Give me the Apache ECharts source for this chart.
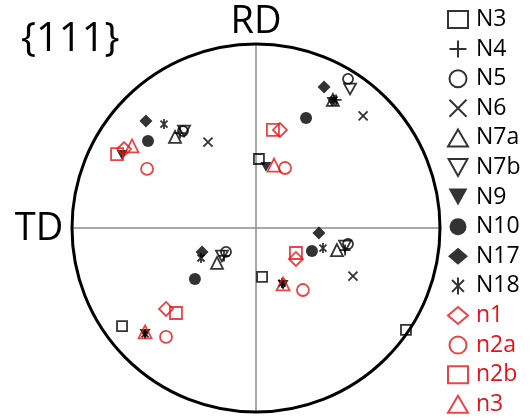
<!DOCTYPE html>
<html>
<head>
<meta charset="utf-8">
<script src="https://cdn.jsdelivr.net/npm/echarts@6/dist/echarts.min.js"></script>
<style>
  html, body { margin: 0; padding: 0; background: #fff; }
  #chart { width: 532px; height: 417px; }
</style>
</head>
<body>
<div id="chart"></div>
<script>
// pole figure coordinates, unit circle = outer rim
const N3 = [[0.016, 0.375], [0.033, -0.266], [-0.728, -0.533], [0.815, -0.554]]
const N4 = [[0.435, 0.696], [-0.413, 0.516], [-0.174, -0.152], [0.484, -0.12]]
const N5 = [[0.5, 0.81], [-0.397, 0.527], [-0.163, -0.13], [0.5, -0.087]]
const N6 = [[-0.261, 0.467], [0.582, 0.609], [0.527, -0.261]]
const N7a = [[-0.44, 0.495], [0.418, 0.696], [-0.212, -0.19], [0.44, -0.12]]
const N7b = [[-0.391, 0.527], [0.511, 0.755], [-0.185, -0.152], [0.484, -0.098]]
const N9 = [[-0.728, 0.397], [0.413, 0.685], [0.054, 0.332], [-0.603, -0.576], [0.147, -0.31]]
const N10 = [[-0.587, 0.473], [0.272, 0.598], [-0.332, -0.277], [0.304, -0.125]]
const N17 = [[-0.598, 0.582], [0.37, 0.766], [-0.293, -0.13], [0.342, -0.027]]
const N18 = [[-0.5, 0.565], [0.424, 0.696], [-0.299, -0.163], [0.364, -0.109], [-0.603, -0.576], [0.141, -0.299]]
const n1 = [[-0.717, 0.429], [0.13, 0.533], [-0.489, -0.44], [0.217, -0.168]]
const n2a = [[-0.592, 0.321], [0.158, 0.326], [-0.489, -0.592], [0.255, -0.337]]
const n2b = [[-0.755, 0.402], [0.092, 0.533], [-0.435, -0.462], [0.217, -0.136]]
const n3 = [[-0.674, 0.446], [0.098, 0.342], [-0.603, -0.565], [0.147, -0.304]]

const BLACK = '#000'
const RED = '#e81414'
const FONT = '"Open Sans"'

const PLUS = 'path://M5,0L5,10M0,5L10,5'
const CROSS = 'path://M0,0L10,10M10,0L0,10'
const STAR = 'path://M5,0L5,10M1.5,1.5L8.5,8.5M8.5,1.5L1.5,8.5'
const DOWN = 'path://M0,0L10,0L5,9Z'

function makeSeries (name, data, symbol, size, color, filled) {
  return {
    name: name,
    type: 'scatter',
    data: data,
    symbol: symbol,
    symbolSize: size,
    symbolKeepAspect: true,
    itemStyle: filled
      ? { color: color, borderWidth: 0 }
      : { color: 'rgba(0,0,0,0)', borderColor: color, borderWidth: 1.8 },
    emphasis: { disabled: true },
    z: 3
  }
}

const series = [
  makeSeries('N3', N3, 'rect', 10, BLACK, false),
  makeSeries('N4', N4, PLUS, 11, BLACK, false),
  makeSeries('N5', N5, 'circle', 10, BLACK, false),
  makeSeries('N6', N6, CROSS, 9, BLACK, false),
  makeSeries('N7a', N7a, 'triangle', 12, BLACK, false),
  makeSeries('N7b', N7b, DOWN, 12, BLACK, false),
  makeSeries('N9', N9, DOWN, 11, BLACK, true),
  makeSeries('N10', N10, 'circle', 12, BLACK, true),
  makeSeries('N17', N17, 'diamond', 13, BLACK, true),
  makeSeries('N18', N18, STAR, 10, BLACK, false),
  makeSeries('n1', n1, 'diamond', 14, RED, false),
  makeSeries('n2a', n2a, 'circle', 12, RED, false),
  makeSeries('n2b', n2b, 'rect', 12, RED, false),
  makeSeries('n3', n3, 'triangle', 13, RED, false)
]

const legendNames = ['N3', 'N4', 'N5', 'N6', 'N7a', 'N7b', 'N9', 'N10', 'N17', 'N18', 'n1', 'n2a', 'n2b', 'n3']

const chart = echarts.init(document.getElementById('chart'))
chart.setOption({
  animation: false,
  backgroundColor: '#fff',
  polar: { center: [256, 228], radius: 184 },
  angleAxis: {
    type: 'value', min: 0, max: 360, interval: 90, startAngle: 90,
    axisLine: { lineStyle: { color: BLACK, width: 3 } },
    axisTick: { show: false },
    axisLabel: { show: false },
    splitLine: { show: true, lineStyle: { color: '#8a8a8a', width: 1.5 } },
    z: 1
  },
  radiusAxis: { min: 0, max: 1, show: false, splitLine: { show: false } },
  grid: { left: 72, top: 44, width: 368, height: 368 },
  xAxis: { type: 'value', min: -1, max: 1, show: false },
  yAxis: { type: 'value', min: -1, max: 1, show: false },
  legend: {
    orient: 'vertical',
    left: 447,
    top: 8,
    height: 412,
    padding: 0,
    itemWidth: 20,
    itemHeight: 17,
    itemGap: 6.6,
    selectedMode: false,
    textStyle: { fontFamily: FONT, fontSize: 23, color: BLACK, padding: [0, 0, 0, 3] },
    data: legendNames.map(n => n[0] === 'n'
      ? { name: n, textStyle: { color: RED } }
      : { name: n })
  },
  graphic: [
    { type: 'text', x: 21, y: 40, style: { text: '{111}', font: '40px ' + FONT, fill: BLACK, align: 'left', verticalAlign: 'middle' } },
    { type: 'text', x: 256, y: 22, style: { text: 'RD', font: '38px ' + FONT, fill: BLACK, align: 'center', verticalAlign: 'middle' } },
    { type: 'text', x: 39, y: 229, style: { text: 'TD', font: '38px ' + FONT, fill: BLACK, align: 'center', verticalAlign: 'middle' } }
  ],
  series: series
})
</script>
</body>
</html>
